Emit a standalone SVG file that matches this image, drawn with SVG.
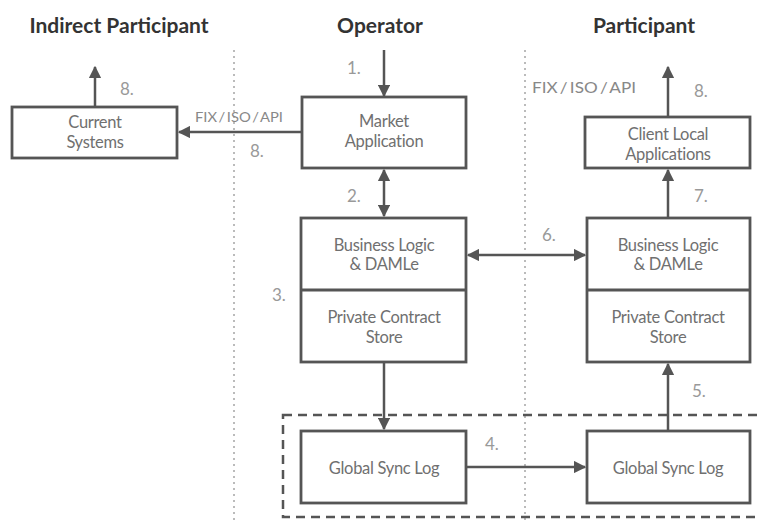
<svg xmlns="http://www.w3.org/2000/svg" width="759" height="524" viewBox="0 0 759 524">
<defs>
<marker id="ah" viewBox="0 0 10 10" refX="9" refY="5" markerWidth="5" markerHeight="5" orient="auto-start-reverse" markerUnits="strokeWidth">
<path d="M0,0 L10,5 L0,10 z" fill="#555"/>
</marker>
<style>
.title{font-family:Lato,"Liberation Sans",sans-serif;font-weight:bold;font-size:21px;fill:#333;text-anchor:middle}
.box{fill:#fff;stroke:#555;stroke-width:2.8}
.lbl{font-family:Lato,"Liberation Sans",sans-serif;font-size:16.5px;letter-spacing:-0.3px;fill:#707070;text-anchor:middle}
.num{font-family:Lato,"Liberation Sans",sans-serif;font-size:17px;fill:#999}
.small{font-family:Lato,"Liberation Sans",sans-serif;fill:#888;word-spacing:-2px}
.conn{stroke:#555;stroke-width:2.5;fill:none}
.dot{stroke:#bbb;stroke-width:2;stroke-dasharray:2 4;fill:none}
</style>
</defs>
<rect width="759" height="524" fill="#fff"/>
<text class="title" x="119" y="33">Indirect Participant</text>
<text class="title" x="380" y="33">Operator</text>
<text class="title" x="644" y="33">Participant</text>
<g id="separators">
<line class="dot" x1="234" y1="50" x2="234" y2="520"/>
<line class="dot" x1="525" y1="50" x2="525" y2="520"/>
</g>
<g id="sync-zone">
<rect x="283" y="415" width="485" height="102" fill="none" stroke="#555" stroke-width="2.5" stroke-dasharray="9 6"/>
</g>
<g id="connectors">
<line class="conn" x1="95" y1="107" x2="95" y2="67" marker-end="url(#ah)"/>
<line class="conn" x1="302" y1="132" x2="179" y2="132" marker-end="url(#ah)"/>
<line class="conn" x1="384" y1="50" x2="384" y2="96" marker-end="url(#ah)"/>
<line class="conn" x1="668" y1="117" x2="668" y2="67" marker-end="url(#ah)"/>
<line class="conn" x1="384" y1="170" x2="384" y2="216" marker-start="url(#ah)" marker-end="url(#ah)"/>
<line class="conn" x1="668" y1="218" x2="668" y2="170" marker-end="url(#ah)"/>
<line class="conn" x1="468" y1="255" x2="585" y2="255" marker-start="url(#ah)" marker-end="url(#ah)"/>
<line class="conn" x1="384" y1="362" x2="384" y2="429" marker-end="url(#ah)"/>
<line class="conn" x1="466" y1="467" x2="585" y2="467" marker-end="url(#ah)"/>
<line class="conn" x1="668" y1="431" x2="668" y2="364" marker-end="url(#ah)"/>
<text class="small" x="195" y="122" font-size="13" textLength="88" lengthAdjust="spacingAndGlyphs">FIX / ISO / API</text>
<text class="small" x="532" y="93" font-size="16" textLength="104" lengthAdjust="spacingAndGlyphs">FIX / ISO / API</text>
<text class="num" x="120" y="95">8.</text>
<text class="num" x="250" y="157">8.</text>
<text class="num" x="347" y="74">1.</text>
<text class="num" x="694" y="97">8.</text>
<text class="num" x="347" y="202">2.</text>
<text class="num" x="694" y="202">7.</text>
<text class="num" x="542" y="241">6.</text>
<text class="num" x="272" y="301">3.</text>
<text class="num" x="485" y="450">4.</text>
<text class="num" x="692" y="397">5.</text>
</g>
<g id="current-systems">
<rect class="box" x="12" y="107" width="165" height="51"/>
<text class="lbl" x="95" y="128">Current</text>
<text class="lbl" x="95" y="148">Systems</text>
</g>
<g id="market-application">
<rect class="box" x="302" y="97" width="164" height="71"/>
<text class="lbl" x="384" y="127">Market</text>
<text class="lbl" x="384" y="147">Application</text>
</g>
<g id="client-local-applications">
<rect class="box" x="585" y="117" width="165" height="51"/>
<text class="lbl" x="668" y="140">Client Local</text>
<text class="lbl" x="668" y="160">Applications</text>
</g>
<g id="operator-node">
<rect class="box" x="301" y="218" width="165" height="144"/>
<line class="box" x1="301" y1="290" x2="466" y2="290"/>
<text class="lbl" x="384" y="251">Business Logic</text>
<text class="lbl" x="384" y="270">&amp; DAMLe</text>
<text class="lbl" x="384" y="323">Private Contract</text>
<text class="lbl" x="384" y="343">Store</text>
</g>
<g id="participant-node">
<rect class="box" x="587" y="218" width="163" height="144"/>
<line class="box" x1="587" y1="290" x2="750" y2="290"/>
<text class="lbl" x="668" y="251">Business Logic</text>
<text class="lbl" x="668" y="270">&amp; DAMLe</text>
<text class="lbl" x="668" y="323">Private Contract</text>
<text class="lbl" x="668" y="343">Store</text>
</g>
<g id="operator-sync-log">
<rect class="box" x="301" y="431" width="165" height="72"/>
<text class="lbl" x="384" y="474">Global Sync Log</text>
</g>
<g id="participant-sync-log">
<rect class="box" x="587" y="431" width="163" height="72"/>
<text class="lbl" x="668" y="474">Global Sync Log</text>
</g>
</svg>
